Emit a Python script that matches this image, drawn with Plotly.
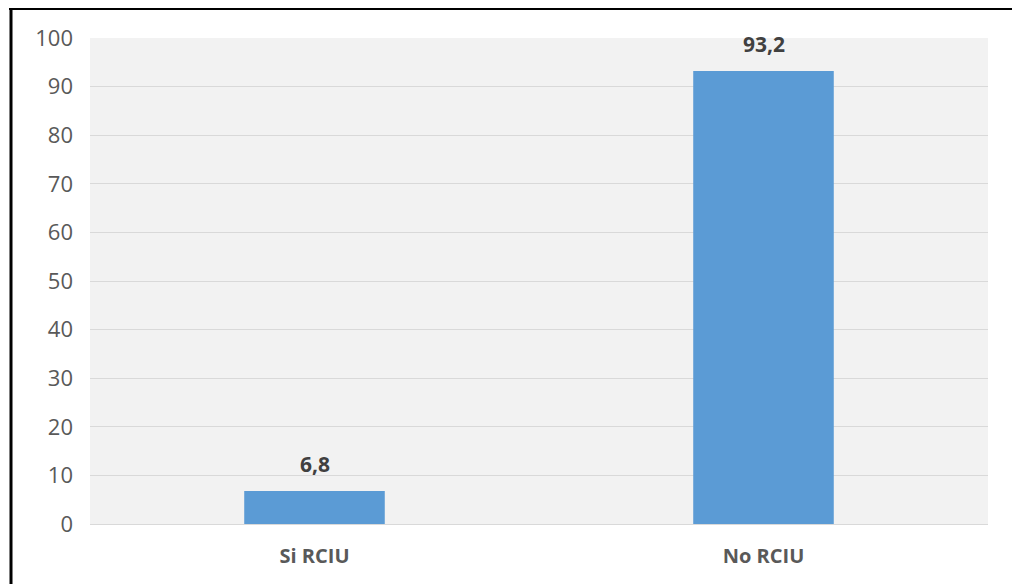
import plotly.graph_objects as go

categories = ["Si RCIU", "No RCIU"]
values = [6.8, 93.2]
labels = ["6,8", "93,2"]
y_ticks = [0, 10, 20, 30, 40, 50, 60, 70, 80, 90, 100]

# the page body has an 8px margin, so figure coords = screen coords - 8
OFF = 8
W, H = 1020, 584
L, R, T, B = 90 - OFF, 40, 38 - OFF, 68
pw, ph = W - L - R, H - T - B

def px_x(x):
    return (x - OFF - L) / pw

def px_y(y):
    return 1 - (y - OFF - T) / ph

fig = go.Figure(go.Bar(
    x=categories, y=values,
    marker=dict(color="#5b9bd5", line=dict(width=0)),
    width=0.313,
    hoverinfo="x+y",
))

for c, v, t in zip(categories, values, labels):
    fig.add_annotation(
        x=c, y=v, text=t, showarrow=False,
        yanchor="bottom", yshift=11,
        font=dict(family="Open Sans", size=21, color="#404040", weight="bold"),
    )

fig.update_layout(
    width=W, height=H,
    margin=dict(l=L, r=R, t=T, b=B, pad=0),
    paper_bgcolor="white",
    plot_bgcolor="#f2f2f2",
    showlegend=False,
    font=dict(family="Open Sans"),
    xaxis=dict(
        tickfont=dict(family="Open Sans", size=20, color="#595959", weight="bold"),
        showgrid=False, zeroline=False, showline=False, ticks="",
        ticklabelstandoff=18,
    ),
    yaxis=dict(
        range=[0, 100], tickvals=y_ticks,
        tickfont=dict(family="Open Sans", size=22, color="#595959"),
        gridcolor="#d9d9d9", gridwidth=1,
        zeroline=True, zerolinecolor="#d9d9d9", zerolinewidth=1,
        showline=False, ticks="", ticklabelstandoff=16,
    ),
    shapes=[
        dict(type="line", xref="paper", yref="paper",
             x0=px_x(9), x1=px_x(1019), y0=px_y(8.5), y1=px_y(8.5),
             line=dict(color="black", width=3)),
        dict(type="line", xref="paper", yref="paper",
             x0=px_x(11), x1=px_x(11), y0=px_y(7), y1=px_y(600),
             line=dict(color="black", width=3)),
        dict(type="line", xref="paper", yref="paper",
             x0=px_x(1018), x1=px_x(1018), y0=px_y(8), y1=px_y(600),
             line=dict(color="#a0a0a0", width=2)),
    ],
)

fig.write_html("out.html")
